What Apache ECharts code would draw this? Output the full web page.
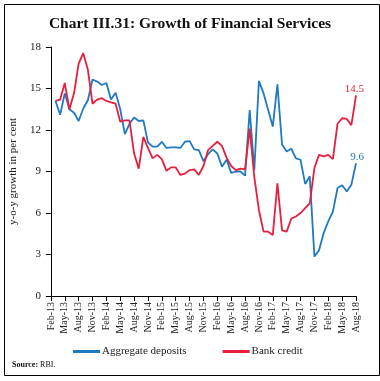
<!DOCTYPE html>
<html><head><meta charset="utf-8">
<script src="https://cdn.jsdelivr.net/npm/echarts@6/dist/echarts.min.js"></script>
<style>html,body{margin:0;padding:0;background:#fff}#c{width:380px;height:381px}</style>
</head><body><div id="c"></div>
<script>
const categories = ['Feb-13','Mar-13','Apr-13','May-13','Jun-13','Jul-13','Aug-13','Sep-13','Oct-13','Nov-13','Dec-13','Jan-14',
'Feb-14','Mar-14','Apr-14','May-14','Jun-14','Jul-14','Aug-14','Sep-14','Oct-14','Nov-14','Dec-14','Jan-15',
'Feb-15','Mar-15','Apr-15','May-15','Jun-15','Jul-15','Aug-15','Sep-15','Oct-15','Nov-15','Dec-15','Jan-16',
'Feb-16','Mar-16','Apr-16','May-16','Jun-16','Jul-16','Aug-16','Sep-16','Oct-16','Nov-16','Dec-16','Jan-17',
'Feb-17','Mar-17','Apr-17','May-17','Jun-17','Jul-17','Aug-17','Sep-17','Oct-17','Nov-17','Dec-17','Jan-18',
'Feb-18','Mar-18','Apr-18','May-18','Jun-18','Jul-18','Aug-18'];
const aggregateDeposits = [null,14.1,13.1,14.65,13.5,13.25,12.65,13.55,14.15,15.65,15.5,15.25,
15.4,14.2,14.7,13.5,11.7,12.45,12.9,12.65,12.7,11.1,10.8,10.8,
11.15,10.7,10.75,10.75,10.7,11.15,11.2,10.6,10.55,9.75,10.25,10.6,
10.3,9.35,9.85,8.9,9.0,9.0,8.7,13.45,9.1,15.55,14.65,13.45,
12.25,15.3,10.95,10.45,10.65,9.95,9.85,8.1,8.65,2.85,3.3,4.55,
5.4,6.1,7.8,8.0,7.55,8.05,9.6];
const bankCredit = [null,14.1,14.2,15.4,13.5,14.65,16.8,17.55,16.35,13.9,14.2,14.3,
14.1,14.0,13.9,12.6,12.7,12.7,10.3,9.2,11.5,10.7,9.95,10.2,
9.9,9.05,9.3,9.3,8.75,8.85,9.1,9.15,8.75,9.4,10.55,10.85,
11.15,10.85,10.0,9.4,9.1,9.2,9.15,12.1,8.6,6.2,4.65,4.65,
4.4,8.15,4.75,4.65,5.6,5.75,6.0,6.35,6.7,9.25,10.2,10.1,
10.2,9.9,12.45,12.85,12.8,12.35,14.5];
const yTicks = {min:0, max:18, interval:3};

const serif = 'Liberation Serif';
const BLUE = '#1f7abf', RED = '#e71f3d';
function endLabel(color){
  return {show:true, distance:0, align:'right', verticalAlign:'middle', offset:[8,-6], color:color, fontFamily:serif, fontSize:11,
    formatter: p => Number(p.value).toFixed(1)};
}
const chart = echarts.init(document.getElementById('c'), null, {renderer:'canvas'});
chart.setOption({
  animation:false,
  backgroundColor:'#fff',
  title:{text:'Chart III.31: Growth of Financial Services', left:'center', top:11,
    textStyle:{fontFamily:serif, fontWeight:'bold', fontSize:15.5, color:'#111'}},
  grid:{left:48, right:24, top:47, bottom:85, containLabel:false},
  legend:{left:68, top:341, itemWidth:27, itemHeight:3, itemGap:36, icon:'rect',
    textStyle:{fontFamily:serif, fontSize:11, color:'#222', padding:[0,0,0,-3]},
    data:[{name:'Aggregate deposits', itemStyle:{color:BLUE}},{name:'Bank credit', itemStyle:{color:RED}}]},
  xAxis:{type:'category', data:categories, boundaryGap:false,
    axisLine:{lineStyle:{color:'#000', width:1}},
    axisTick:{show:true, interval:2, length:5, lineStyle:{color:'#000'}},
    axisLabel:{interval:2, rotate:90, margin:6, fontFamily:serif, fontSize:10, color:'#222'},
    splitLine:{show:false}},
  yAxis:{type:'value', min:yTicks.min, max:yTicks.max, interval:yTicks.interval,
    name:'y-o-y growth in per cent', nameLocation:'middle', nameGap:28, nameRotate:90,
    nameTextStyle:{fontFamily:serif, fontSize:11, color:'#222'},
    axisLine:{show:true, lineStyle:{color:'#000', width:1}},
    axisTick:{show:true, length:5, lineStyle:{color:'#000'}},
    axisLabel:{margin:10, fontFamily:serif, fontSize:11, color:'#222'},
    splitLine:{show:false}},
  series:[
    {name:'Aggregate deposits', type:'line', data:aggregateDeposits, symbol:'none',
      lineStyle:{color:BLUE, width:1.8}, itemStyle:{color:BLUE}, endLabel:endLabel(BLUE)},
    {name:'Bank credit', type:'line', data:bankCredit, symbol:'none',
      lineStyle:{color:RED, width:1.8}, itemStyle:{color:RED}, endLabel:endLabel(RED)}
  ],
  graphic:[
    {type:'rect', left:2, top:2, shape:{x:0,y:0,width:375,height:371}, style:{fill:'none', stroke:'#000', lineWidth:1}, silent:true},
    {type:'text', left:12, top:361, style:{text:'{b|Source:} RBI.', font:'8px '+serif, fill:'#111',
      rich:{b:{fontWeight:'bold', fontFamily:serif, fontSize:8, fill:'#111'}}}}
  ]
});
</script></body></html>
